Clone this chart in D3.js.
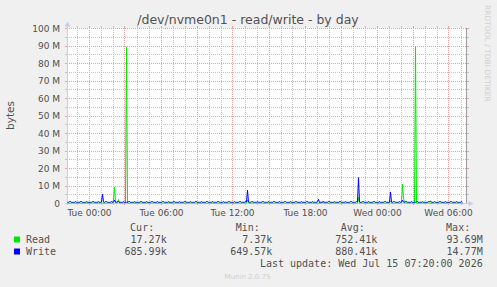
<!DOCTYPE html>
<html>
<head>
<meta charset="utf-8">
<script src="https://cdn.jsdelivr.net/npm/d3@7"></script>
<style>
  html, body { margin: 0; padding: 0; background: #f0f0f0; }
  svg { display: block; }
</style>
</head>
<body>
<svg id="chart" width="497" height="287"></svg>
<script>
// munin diskstats graph, one sample per 5 minutes, values in M (bytes/s)
const title = "/dev/nvme0n1 - read/write - by day";
const yLabel = "bytes";
const sideText = "RRDTOOL / TOBI OETIKER";
const footer = "Munin 2.0.75";
const lastUpdate = "Last update: Wed Jul 15 07:20:00 2026";

const startTime = "2026-07-13T22:10";
const endTime = "2026-07-15T07:30";
const stepMinutes = 5;

const xLabelTimes = ["2026-07-14T00:00", "2026-07-14T06:00", "2026-07-14T12:00",
  "2026-07-14T18:00", "2026-07-15T00:00", "2026-07-15T06:00"];
const yTicks = [0, 10, 20, 30, 40, 50, 60, 70, 80, 90, 100];

const seriesNames = ["Read", "Write"];
const statHeaders = ["Cur:", "Min:", "Avg:", "Max:"];
const readStats = ["17.27k", "7.37k", "752.41k", "93.69M"];
const writeStats = ["685.99k", "649.57k", "880.41k", "14.77M"];

// 2 hours per row
const readM = [
  .3,.3,.2,.3,.3,.4,.3,.3,.2,.3,.3,.3,.4,.3,.3,.2,.3,.3,.3,.4,.3,.3,.2,.3,
  .3,.3,.4,.3,.2,.3,.3,.3,.3,.4,.3,.3,.2,.3,.3,.3,.4,.3,.3,.2,.3,.3,2,9.5,
  .4,.3,.3,2.3,.3,.2,.3,.3,.4,.3,.3,89.5,.3,.3,.2,.3,.3,.4,.3,.3,.2,.3,.3,.3,
  .3,.4,.3,.3,.2,.3,.3,.3,.4,.3,.3,.2,.3,.3,.3,.4,.3,.3,.2,.3,.3,.3,.4,.3,
  .3,.2,.3,.3,.3,.4,.3,.3,.2,.3,.3,.3,.4,.3,.3,.2,.3,.3,.3,.4,.3,.3,.2,.3,
  .3,.3,.4,.3,.3,.2,.3,.3,.3,.4,.3,.3,.2,.3,.3,.3,.4,.3,.3,.2,.3,.3,.3,.4,
  .3,.3,.2,.3,.3,.3,.4,.3,.3,.2,.3,.3,.3,.4,.3,.3,.2,.3,.3,.3,.4,.3,.3,.2,
  .3,.3,.3,.4,.3,.3,.2,.3,.3,.3,.4,.3,2,.3,.3,.2,.3,.3,.3,.4,.3,.3,.2,.3,
  .3,.3,.4,.3,.3,.2,.3,.3,.3,.4,.3,.3,.2,.3,.3,.3,.4,.3,.3,.2,.3,.3,.3,.4,
  .3,.3,.2,.3,.3,.3,.4,.3,.3,.2,.3,.3,.3,.4,.3,.3,.2,.3,.3,.3,.4,.3,.3,.2,
  .3,.3,.3,.4,.3,.3,.2,.3,.3,.3,.4,.3,.3,.2,.3,1.2,.3,.3,.4,.3,.3,.2,.3,.3,
  .3,.4,.3,.3,.2,.3,.3,.3,.4,.3,.3,.2,.3,.3,.3,.4,.3,.3,.2,.3,.3,.3,.4,.3,
  .3,.2,.3,3.5,.3,.3,.4,.3,.3,.2,.3,.3,.3,.4,.3,.3,.2,.3,.3,.3,.4,.3,.3,.2,
  .3,.3,.3,.4,.3,.3,.2,.3,.3,.3,.4,1.5,.3,.2,.3,.3,.3,.4,.3,.3,.2,.3,1,11,
  3,.3,.3,.4,.3,.3,.2,.3,.3,.3,.4,.3,89.5,.3,.2,.3,.3,.3,.4,.3,.3,.2,.3,.3,
  .3,.4,.3,.3,.2,.3,.3,.3,.4,.3,.3,.2,.3,.3,.3,.4,.3,.3,.2,.3,.3,.3,.4,.3,
  .3,.2,.3,.3,.3,.4,.3,.3,.2,.3,.3,.02
];

const writeM = [
  .7,.7,1.1,1.1,.7,.7,.7,.7,1.1,.7,.7,.7,.7,1.1,1.1,.7,.7,.7,.7,1.1,.7,.7,.7,.7,
  .7,1.1,1.1,.7,.7,.7,.7,1.1,.7,.7,.9,5.3,.9,.7,1.1,1.1,.7,.7,.7,.7,1.1,.7,.8,1.9,
  .8,.7,1.1,1.1,.7,.7,.7,.7,1.1,.7,.7,.7,.7,1.1,1.1,.7,.7,.7,.7,1.1,.7,.7,.7,.7,
  .7,1.1,1.1,.7,.7,.7,.7,1.1,.7,.7,.7,.7,1.1,1.1,.7,.7,.7,.7,1.1,.7,.7,.7,.7,1.1,
  1.1,.7,.7,.7,.7,1.1,.7,.7,.7,.7,1.1,1.1,.7,.7,.7,.7,1.1,.7,.7,.7,.7,1.1,1.1,.7,
  .7,.7,.7,1.1,.7,.7,.7,.7,1.1,1.1,.7,.7,.7,.7,1.1,.7,.7,.7,.7,1.1,1.1,.7,.7,.7,
  .7,1.1,.7,.7,.7,.7,1.1,1.1,.7,.7,.7,.7,1.1,.7,.7,.7,.7,1.1,1.1,.7,.7,.7,.7,1.1,
  .7,.7,.7,.7,1.1,1.1,.7,.7,.7,.7,1.1,.9,7.6,.9,.7,.7,1.1,1.1,.7,.7,.7,.7,1.1,.7,
  .7,.7,.7,1.1,1.1,.7,.7,.7,.7,1.1,.7,.7,.7,.7,1.1,1.1,.7,.7,.7,.7,1.1,.7,.7,.7,
  .7,1.1,1.1,.7,.7,.7,.7,1.1,.7,.7,.7,.7,1.1,1.1,.7,.7,.7,.7,1.1,.7,.7,.7,.7,1.1,
  1.1,.7,.7,.7,.7,1.1,.7,.7,.7,.7,1.1,2.4,.7,.7,.7,.7,1.1,.7,.7,.7,.7,1.1,1.1,.7,
  .7,.7,.7,1.1,.7,.7,.7,.7,1.1,1.1,.7,.7,.7,.7,1.1,.7,.7,.7,.7,1.1,1.1,.7,.7,.7,
  .7,1.1,1,14.77,1,.7,.7,1.1,1.1,.7,.7,.7,.7,1.1,.7,.7,.7,.7,1.1,1.1,.7,.7,.7,.7,
  1.1,.7,.7,.7,.7,1.1,1.1,.7,.7,.7,.9,6.6,.9,.7,1.1,1.1,.7,.7,.7,.7,1.1,.7,.8,1.9,
  .8,.7,1.1,1.1,.7,.7,.7,.7,1.1,.7,.7,.7,.7,1.1,1.1,.7,.7,.7,.7,1.1,.7,.7,.7,.7,
  .7,1.1,1.1,1.4,.7,.7,.7,1.1,.7,.7,.7,.7,1.1,1.1,.7,.7,.7,.7,1.1,.7,.7,.7,.7,1.1,
  1.1,.7,.7,.7,.7,1.1,.7,.7,.7,.7,1.1,.69
];

const colors = { read: "#00e800", write: "#0000ff", text: "#505050",
  major: "#e8a0a0", minor: "#c4c4c4", axis: "#c8ccf4", faint: "#cfcfcf" };

const plot = { left: 67, top: 28, width: 400, height: 175 };
const right = plot.left + plot.width, bottom = plot.top + plot.height;

const parse = d3.timeParse("%Y-%m-%dT%H:%M");
const start = parse(startTime), end = parse(endTime);

const x = d3.scaleTime().domain([start, end]).range([plot.left, right]);
const y = d3.scaleLinear().domain([0, 100]).range([bottom + 0.5, plot.top + 0.5]);
const snap = (v) => Math.floor(v) + 0.5;
const sampleTime = (i) => d3.timeMinute.offset(start, i * stepMinutes);

const svg = d3.select("#chart");

svg.append("rect")
  .attr("x", plot.left).attr("y", plot.top)
  .attr("width", plot.width).attr("height", plot.height)
  .attr("fill", "#fff");

// grid
const grid = svg.append("g").attr("shape-rendering", "crispEdges");
const hours = d3.timeHour.range(d3.timeHour.ceil(start), end);
hours.forEach((h) => {
  const major = h.getHours() % 3 == 0;
  const xp = snap(x(h));
  const c = major ? colors.major : colors.minor;
  grid.append("line")
    .attr("x1", xp).attr("x2", xp).attr("y1", plot.top).attr("y2", bottom)
    .attr("stroke", c).attr("stroke-dasharray", "1,1");
  // little ticks outside the canvas
  grid.append("line").attr("x1", xp).attr("x2", xp)
    .attr("y1", plot.top - 2).attr("y2", plot.top).attr("stroke", c);
  grid.append("line").attr("x1", xp).attr("x2", xp)
    .attr("y1", bottom).attr("y2", bottom + 2).attr("stroke", c);
});
y.ticks(20).forEach((v) => {
  const major = v % 10 == 0;
  const yp = snap(y(v));
  const c = major ? colors.major : colors.minor;
  grid.append("line")
    .attr("x1", plot.left).attr("x2", right).attr("y1", yp).attr("y2", yp)
    .attr("stroke", c).attr("stroke-dasharray", "1,1");
  grid.append("line").attr("x1", plot.left - 2).attr("x2", plot.left)
    .attr("y1", yp).attr("y2", yp).attr("stroke", c);
  grid.append("line").attr("x1", right).attr("x2", right + 2)
    .attr("y1", yp).attr("y2", yp).attr("stroke", c);
});

// axes lines + arrows
const ax = svg.append("g");
ax.append("line")
  .attr("x1", plot.left + 0.5).attr("x2", plot.left + 0.5)
  .attr("y1", bottom + 2).attr("y2", plot.top - 2)
  .attr("stroke", colors.axis);
ax.append("line")
  .attr("x1", plot.left - 2).attr("x2", right + 3)
  .attr("y1", bottom + 0.5).attr("y2", bottom + 0.5)
  .attr("stroke", colors.axis);
ax.append("path")
  .attr("d", `M${plot.left + 0.5},${plot.top - 6.5} l-3,5 h6 z`)
  .attr("fill", colors.axis);
ax.append("path")
  .attr("d", `M${right + 6.5},${bottom + 0.5} l-5,-3 v6 z`)
  .attr("fill", colors.axis);

// right frame line
svg.append("line")
  .attr("x1", right - 0.5).attr("x2", right - 0.5)
  .attr("y1", plot.top).attr("y2", bottom)
  .attr("stroke", "#9a9a9a");

// data
const line = d3.line()
  .x((d, i) => x(sampleTime(i)) + 0.5)
  .y((d) => y(d));

svg.append("path").datum(readM)
  .attr("d", line).attr("fill", "none")
  .attr("stroke", colors.read).attr("stroke-width", 1);
svg.append("path").datum(writeM)
  .attr("d", line).attr("fill", "none")
  .attr("stroke", colors.write).attr("stroke-width", 1);

// tick labels
const yAxis = svg.append("g")
  .attr("transform", `translate(${plot.left},0)`)
  .call(d3.axisLeft(y).tickValues(yTicks).tickSize(0).tickPadding(7)
    .tickFormat((d) => (d == 0 ? "0" : d + " M")));
const xAxis = svg.append("g")
  .attr("transform", `translate(0,${bottom + 0.5})`)
  .call(d3.axisBottom(x).tickValues(xLabelTimes.map(parse)).tickSize(0).tickPadding(6)
    .tickFormat(d3.timeFormat("%a %H:%M")));
[yAxis, xAxis].forEach((g) => {
  g.select(".domain").remove();
  g.selectAll("text")
    .attr("font-family", "DejaVu Sans")
    .attr("font-size", 9)
    .attr("fill", colors.text);
});
xAxis.selectAll(".tick").attr("transform", (d) => `translate(${snap(x(d))},0)`);

// titles
svg.append("text")
  .attr("x", 248).attr("y", 23.8)
  .attr("text-anchor", "middle")
  .attr("font-family", "DejaVu Sans").attr("font-size", 12.5)
  .attr("fill", colors.text)
  .text(title);
svg.append("text")
  .attr("transform", `translate(13.5,${(plot.top + bottom) / 2}) rotate(-90)`)
  .attr("text-anchor", "middle")
  .attr("font-family", "DejaVu Sans").attr("font-size", 10.5)
  .attr("fill", colors.text)
  .text(yLabel);
svg.append("text")
  .attr("transform", "translate(485,5) rotate(90)")
  .attr("font-family", "DejaVu Sans").attr("font-size", 7.5)
  .attr("fill", colors.faint)
  .text(sideText);

// legend
const legend = svg.append("g")
  .attr("font-family", "DejaVu Sans Mono").attr("font-size", 10)
  .attr("fill", colors.text);
const colEnds = [166.7, 272.3, 377.3, 482.7];
statHeaders.forEach((h, j) => {
  legend.append("text").attr("x", colEnds[j] - 12.5).attr("y", 231)
    .attr("text-anchor", "end").text(h);
});
[readStats, writeStats].forEach((stats, k) => {
  const yb = 243 + k * 12;
  legend.append("rect")
    .attr("x", 14).attr("y", yb - 6.5).attr("width", 6).attr("height", 6)
    .attr("fill", k == 0 ? colors.read : colors.write);
  legend.append("text").attr("x", 26).attr("y", yb).text(seriesNames[k]);
  stats.forEach((s, j) => {
    legend.append("text").attr("x", colEnds[j]).attr("y", yb)
      .attr("text-anchor", "end").text(s);
  });
});
legend.append("text").attr("x", 482.7).attr("y", 267)
  .attr("text-anchor", "end").text(lastUpdate);

svg.append("text")
  .attr("x", 247.5).attr("y", 279)
  .attr("text-anchor", "middle")
  .attr("font-family", "DejaVu Sans").attr("font-size", 7)
  .attr("fill", colors.faint)
  .text(footer);
</script>
</body>
</html>
